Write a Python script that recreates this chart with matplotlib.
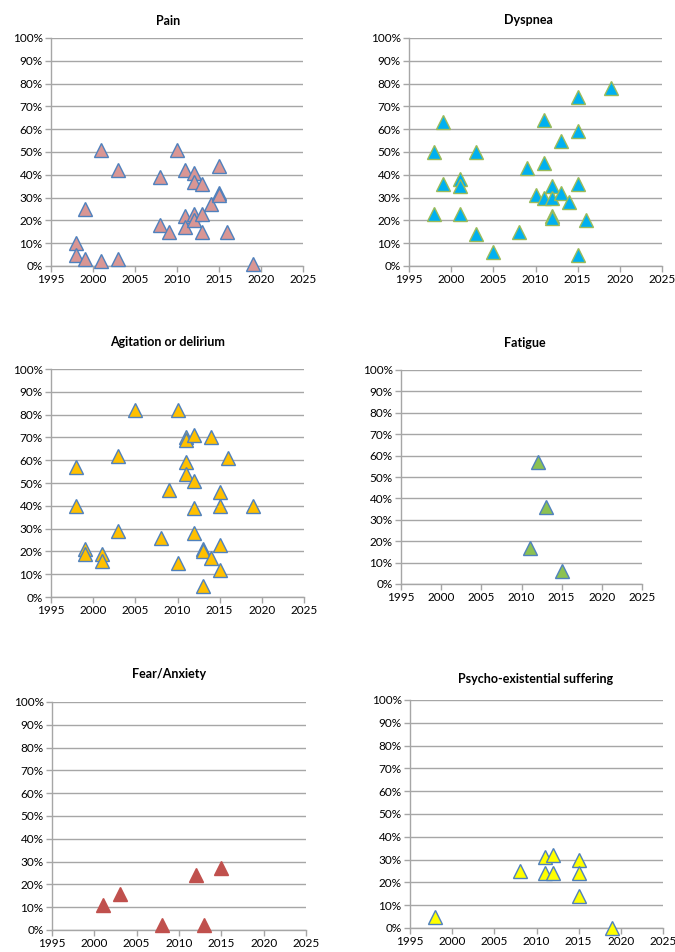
import numpy as np
import matplotlib
matplotlib.use('Agg')
import matplotlib.pyplot as plt
from matplotlib.ticker import PercentFormatter

plt.rcParams['font.family'] = ['Lato', 'DejaVu Sans']

# data (year, percent)
pain_x = [1998, 1998, 1999, 1999, 2001, 2001, 2003, 2003, 2008, 2008, 2009, 2010, 2011, 2011,
          2011, 2012, 2012, 2012, 2012, 2013, 2013, 2013, 2014, 2015, 2015, 2015, 2016, 2019]
pain_y = [10, 5, 25, 3, 51, 2, 42, 3, 39, 18, 15, 51, 42, 22,
          17, 41, 37, 23, 20, 36, 23, 15, 27, 44, 32, 31, 15, 1]

dysp_x = [1998, 1998, 1999, 1999, 2001, 2001, 2001, 2003, 2003, 2005, 2008, 2009, 2010, 2011, 2011,
          2011, 2012, 2012, 2012, 2012, 2013, 2013, 2014, 2015, 2015, 2015, 2015, 2016, 2019]
dysp_y = [50, 23, 63, 36, 38, 35, 23, 50, 14, 6, 15, 43, 31, 64, 45,
          30, 35, 30, 22, 21, 55, 32, 28, 74, 59, 36, 5, 20, 78]

agit_x = [1998, 1998, 1999, 1999, 2001, 2001, 2003, 2003, 2005, 2008, 2009, 2010, 2010, 2011, 2011, 2011,
          2011, 2012, 2012, 2012, 2012, 2013, 2013, 2013, 2014, 2014, 2015, 2015, 2015, 2015, 2016, 2019]
agit_y = [57, 40, 21, 19, 19, 16, 62, 29, 82, 26, 47, 82, 15, 70, 69, 59,
          54, 71, 51, 39, 28, 21, 20, 5, 70, 17, 46, 40, 23, 12, 61, 40]

fatig_x = [2011, 2012, 2013, 2015]
fatig_y = [17, 57, 36, 6]

fear_x = [2001, 2003, 2008, 2012, 2013, 2015]
fear_y = [11, 16, 2, 24, 2, 27]

psy_x = [1998, 2008, 2011, 2011, 2012, 2012, 2015, 2015, 2015, 2019]
psy_y = [5, 25, 31, 24, 32, 24, 30, 24, 14, 0]

W, H = 675, 952
fig = plt.figure(figsize=(W / 100, H / 100), dpi=100)

# title, data, colours, axes box in pixels (left, right, top, bottom), title pos
panels = [
    ('Pain', pain_x, pain_y, '#D99694', '#4F81BD', (51, 303, 38, 266), (168, 21)),
    ('Dyspnea', dysp_x, dysp_y, '#00B0F0', '#9BBB59', (409, 662, 38, 266), (528, 20)),
    ('Agitation or delirium', agit_x, agit_y, '#FFC000', '#4F81BD', (51, 304, 369, 597), (167, 342)),
    ('Fatigue', fatig_x, fatig_y, '#8CC152', '#4F81BD', (401, 642, 370, 584), (525, 343)),
    ('Fear/Anxiety', fear_x, fear_y, '#C0504D', '#C0504D', (52, 306, 702, 930), (169, 674)),
    ('Psycho-existential suffering', psy_x, psy_y, '#FFFF00', '#4F81BD', (410, 663, 700, 928), (536, 679)),
]

for title, xs, ys, fc, ec, box, tpos in panels:
    l, r, t, b = box
    ax = fig.add_axes([l / W, (H - b) / H, (r - l) / W, (b - t) / H])
    ax.plot(xs, ys, linestyle='none', marker='^', markersize=9.5,
            markerfacecolor=fc, markeredgecolor=ec, markeredgewidth=1.0,
            clip_on=False, zorder=3)
    ax.set_xlim(1995, 2025)
    ax.set_ylim(0, 100)
    ax.set_xticks(np.arange(1995, 2026, 5))
    ax.set_yticks(np.arange(0, 101, 10))
    ax.yaxis.set_major_formatter(PercentFormatter(decimals=0))
    ax.grid(axis='y', color='#A6A6A6', linewidth=1.0)
    ax.set_axisbelow(True)
    for s in ['top', 'right']:
        ax.spines[s].set_visible(False)
    for s in ['left', 'bottom']:
        ax.spines[s].set_color('#A6A6A6')
        ax.spines[s].set_linewidth(1.0)
    ax.tick_params(axis='both', labelsize=8.5, colors='#A6A6A6', labelcolor='black',
                   length=4, width=1.0, pad=2)
    fig.text(tpos[0] / W, 1 - tpos[1] / H, title, ha='center', va='center',
             fontsize=9, fontweight='bold')

fig.savefig('out.png', dpi=100)
